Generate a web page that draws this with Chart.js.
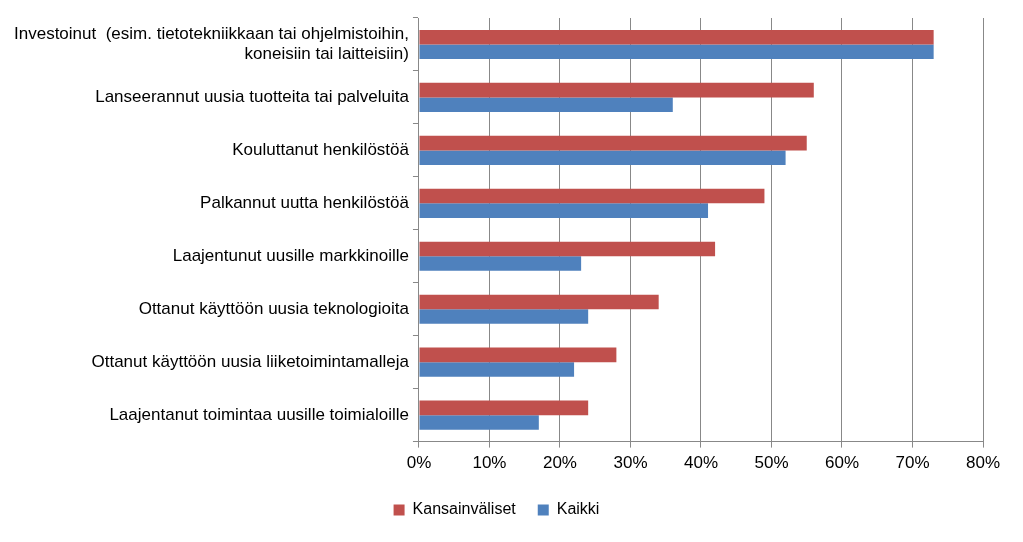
<!DOCTYPE html>
<html><head><meta charset="utf-8">
<script src="https://cdn.jsdelivr.net/npm/chart.js@4/dist/chart.umd.min.js"></script>
<style>html,body{margin:0;padding:0;background:#fff}#w{width:1023px;height:542px}</style>
</head><body><div id="w"><canvas id="c"></canvas></div>
<script>
const categories = [
  ["Investoinut  (esim. tietotekniikkaan tai ohjelmistoihin,", "koneisiin tai laitteisiin)"],
  "Lanseerannut uusia tuotteita tai palveluita",
  "Kouluttanut henkilöstöä",
  "Palkannut uutta henkilöstöä",
  "Laajentunut uusille markkinoille",
  "Ottanut käyttöön uusia teknologioita",
  "Ottanut käyttöön uusia liiketoimintamalleja",
  "Laajentanut toimintaa uusille toimialoille"
];
const kansainvaliset = [73, 56, 55, 49, 42, 34, 28, 24];
const kaikki = [73, 36, 52, 41, 23, 24, 22, 17];
const xTicks = [0,10,20,30,40,50,60,70,80];

Chart.defaults.font.family = "'Liberation Sans', sans-serif";
Chart.defaults.font.size = 17;
Chart.defaults.color = "#000";
new Chart(document.getElementById('c'), {
  type: 'bar',
  data: { labels: categories, datasets: [
    { label: 'Kansainväliset', data: kansainvaliset, backgroundColor: '#C0504D', barPercentage: 1, categoryPercentage: 0.55 },
    { label: 'Kaikki', data: kaikki, backgroundColor: '#4F81BD', barPercentage: 1, categoryPercentage: 0.55 }
  ]},
  options: {
    indexAxis: 'y', responsive: true, maintainAspectRatio: false, animation: false,
    layout: { padding: { top: 18, right: 40, left: 10, bottom: 14 } },
    plugins: {
      legend: { position: 'bottom', labels: { boxWidth: 11, boxHeight: 11, padding: 22, font: { size: 16 } } },
      tooltip: { enabled: false }
    },
    scales: {
      x: { min: 0, max: 80, afterBuildTicks: a => { a.ticks = xTicks.map(v => ({value: v})); },
        ticks: { callback: v => v + '%', padding: 6 },
        grid: { color: '#888', tickLength: 6, drawTicks: true },
        border: { color: '#888' } },
      y: { grid: { drawOnChartArea: false, offset: true, color: '#888', tickLength: 6 },
        border: { color: '#888' },
        ticks: { padding: 4 } }
    }
  }
});
</script></body></html>
